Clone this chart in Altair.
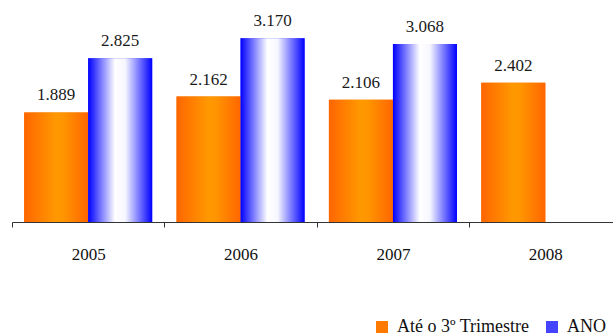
import altair as alt
import pandas as pd

# Values per year (thousands), one list per series; 2008 has no full-year figure yet
years = ["2005", "2006", "2007", "2008"]
series_names = ["Até o 3º Trimestre", "ANO"]
q3_values = [1889, 2162, 2106, 2402]
year_values = [2825, 3170, 3068, None]

rows = []
for yr, q3, full in zip(years, q3_values, year_values):
    rows.append({"ano": yr, "serie": series_names[0], "valor": q3})
    if full is not None:
        rows.append({"ano": yr, "serie": series_names[1], "valor": full})
df = pd.DataFrame(rows)

serif = "Liberation Serif"

orange_grad = {
    "gradient": "linear", "x1": 0, "x2": 1, "y1": 0, "y2": 0,
    "stops": [
        {"offset": 0.0, "color": "#FF6600"},
        {"offset": 0.5, "color": "#FF9900"},
        {"offset": 0.62, "color": "#FF9400"},
        {"offset": 1.0, "color": "#FF6600"},
    ],
}
blue_grad = {
    "gradient": "linear", "x1": 0, "x2": 1, "y1": 0, "y2": 0,
    "stops": [
        {"offset": 0.0, "color": "#0000FF"},
        {"offset": 0.42, "color": "#FFFFFF"},
        {"offset": 0.58, "color": "#F6F6FF"},
        {"offset": 1.0, "color": "#0000FF"},
    ],
}

x_enc = alt.X(
    "ano:N",
    title=None,
    scale=alt.Scale(domain=years, range=[0, 609.5], paddingInner=0, paddingOuter=0),
    axis=alt.Axis(
        tickBand="extent",
        tickSize=5,
        labelPadding=19,
        labelAngle=0,
        labelFont=serif,
        labelFontSize=17,
        labelColor="#111111",
        domainColor="#333333",
        tickColor="#333333",
        domainWidth=1,
    ),
)
xoff_enc = alt.XOffset(
    "serie:N",
    scale=alt.Scale(domain=series_names, paddingInner=0, paddingOuter=0.19),
)
y_enc = alt.Y("valor:Q", scale=alt.Scale(domain=[0, 3500]), axis=None)

# Solid-coloured base bars carry the legend
base_bars = alt.Chart(df).mark_bar().encode(
    x=x_enc,
    xOffset=xoff_enc,
    y=y_enc,
    fill=alt.Fill(
        "serie:N",
        scale=alt.Scale(domain=series_names, range=["#FF7A00", "#4444FF"]),
        legend=alt.Legend(
            title=None,
            orient="none",
            direction="horizontal",
            legendX=361,
            legendY=299,
            symbolType="square",
            symbolSize=144,
            symbolStrokeWidth=0,
            labelFont=serif,
            labelFontSize=18,
            labelColor="#111111",
            labelOffset=6,
            columnPadding=13,
        ),
    ),
)

# Gradient-shaded bars drawn on top
grad_bars = alt.Chart(df).mark_bar().encode(
    x=x_enc,
    xOffset=xoff_enc,
    y=y_enc,
    fill=alt.condition(
        alt.datum.serie == "ANO", alt.value(blue_grad), alt.value(orange_grad)
    ),
)

labels = alt.Chart(df).mark_text(
    font=serif, fontSize=17, color="#1a1a1a", baseline="alphabetic", dy=-12
).transform_calculate(
    rotulo="replace(format(datum.valor, ',d'), ',', '.')"
).encode(
    x=x_enc,
    xOffset=xoff_enc,
    y=y_enc,
    text="rotulo:N",
)

chart = (
    alt.layer(base_bars, grad_bars, labels)
    .resolve_scale(fill="independent")
    .properties(
        width=601,
        height=203,
        autosize=alt.AutoSizeParams(type="none"),
        padding={"left": 12, "top": 19, "right": 0, "bottom": 113},
        view=alt.ViewBackground(stroke="transparent", strokeWidth=0, strokeOpacity=0),
    )
    .configure_view(stroke="transparent", strokeWidth=0)
    .configure(background="white", font=serif)
)

chart.save("out.html", embed_options={"renderer": "svg", "actions": False})
